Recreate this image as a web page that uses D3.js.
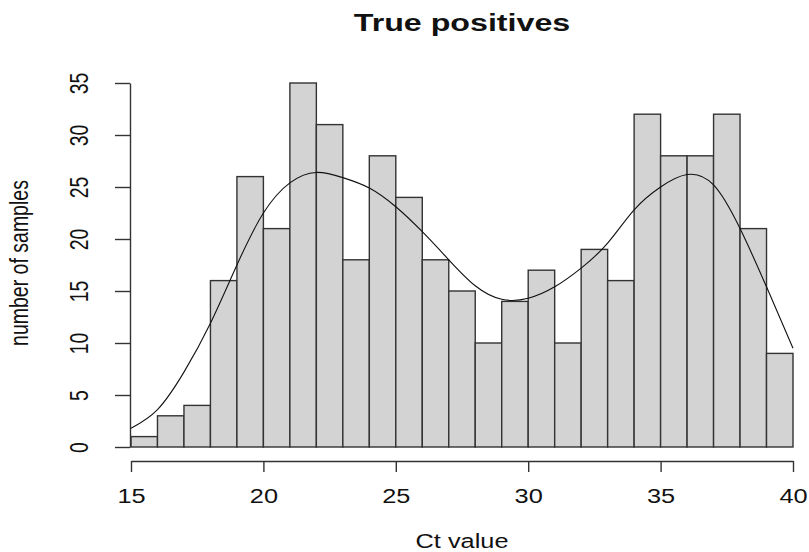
<!DOCTYPE html>
<html lang="en">
<head>
    <meta charset="UTF-8">
    <title>True positives</title>
    <script src="https://d3js.org/d3.v7.min.js"></script>
    <style>
        body { margin: 0; background: #fff; }
        text { font-family: "Liberation Sans", Arial, sans-serif; fill: #111; }
    </style>
</head>
<body>
    <div id="chart"></div>
    <script>
        // Histogram bins (Ct value, width 1) and counts
        const binStarts = d3.range(15, 40);
        const counts = [1, 3, 4, 16, 26, 21, 35, 31, 18, 28, 24, 18, 15, 10, 14, 17, 10, 19, 16, 32, 28, 28, 32, 21, 9];

        // Density curve (scaled to counts)
        const curveX = [15, 16, 17, 18, 19, 20, 21, 22, 23, 24, 25, 26, 27, 28, 29, 30, 31, 32, 33, 34, 35, 36, 37, 38, 39, 40];
        const curveY = [1.8, 3.6, 7.2, 11.9, 17.5, 22.5, 25.4, 26.4, 25.9, 24.9, 23.1, 20.7, 18.0, 15.5, 14.2, 14.3, 15.4, 17.2, 19.6, 22.8, 25.0, 26.2, 25.2, 21.0, 15.4, 9.5];

        const xTicks = [15, 20, 25, 30, 35, 40];
        const yTicks = [0, 5, 10, 15, 20, 25, 30, 35];

        const W = 809, H = 552;
        const stretch = 1.3; // the picture is wider than it is tall

        const svg = d3.select('#chart')
            .append('svg')
            .attr('width', W)
            .attr('height', H);

        const x = d3.scaleLinear().domain([15, 40]).range([131, 793]);
        const y = d3.scaleLinear().domain([0, 35]).range([447, 83]);

        // bars
        svg.selectAll('.bar')
            .data(counts)
            .enter()
            .append('rect')
            .attr('class', 'bar')
            .attr('x', (d, i) => x(binStarts[i]))
            .attr('y', d => y(d))
            .attr('width', (d, i) => x(binStarts[i] + 1) - x(binStarts[i]))
            .attr('height', d => y(0) - y(d))
            .attr('fill', '#d3d3d3')
            .attr('stroke', '#333')
            .attr('stroke-width', 1.4);

        // density line
        const pts = curveX.map((c, i) => [c, curveY[i]]);
        svg.append('path')
            .datum(pts)
            .attr('fill', 'none')
            .attr('stroke', '#111')
            .attr('stroke-width', 1.1)
            .attr('d', d3.line().x(d => x(d[0])).y(d => y(d[1])).curve(d3.curveNatural));

        // x axis
        const gx = svg.append('g')
            .attr('transform', 'translate(0,461)')
            .call(d3.axisBottom(x).tickValues(xTicks).tickSize(11).tickSizeOuter(0));
        gx.selectAll('path, line').attr('stroke', '#333').attr('stroke-width', 1.4);
        gx.selectAll('text')
            .attr('y', null).attr('dy', null)
            .attr('transform', `translate(0,42) scale(${stretch},1)`)
            .style('font-size', '19.5px')
            .style('font-family', '"Liberation Sans", Arial, sans-serif')
            .attr('fill', '#111');

        // y axis
        const gy = svg.append('g')
            .attr('transform', 'translate(130,0)')
            .call(d3.axisLeft(y).tickValues(yTicks).tickSize(15).tickSizeOuter(0));
        gy.selectAll('path, line').attr('stroke', '#333').attr('stroke-width', 1.4);
        gy.selectAll('text')
            .attr('x', null).attr('dy', null)
            .attr('text-anchor', 'middle')
            .attr('transform', `translate(-42,0) rotate(-90) scale(1,${stretch})`)
            .style('font-size', '19.5px')
            .style('font-family', '"Liberation Sans", Arial, sans-serif')
            .attr('fill', '#111');

        // title and axis labels
        svg.append('text')
            .attr('text-anchor', 'middle')
            .attr('transform', `translate(462,31) scale(1.32,1)`)
            .style('font-size', '24.4px')
            .style('font-weight', 'bold')
            .text('True positives');

        svg.append('text')
            .attr('text-anchor', 'middle')
            .attr('transform', `translate(462,548) scale(${stretch},1)`)
            .style('font-size', '19.5px')
            .text('Ct value');

        svg.append('text')
            .attr('text-anchor', 'middle')
            .attr('transform', `translate(28,263) rotate(-90) scale(1,${stretch})`)
            .style('font-size', '19.5px')
            .text('number of samples');
    </script>
</body>
</html>
